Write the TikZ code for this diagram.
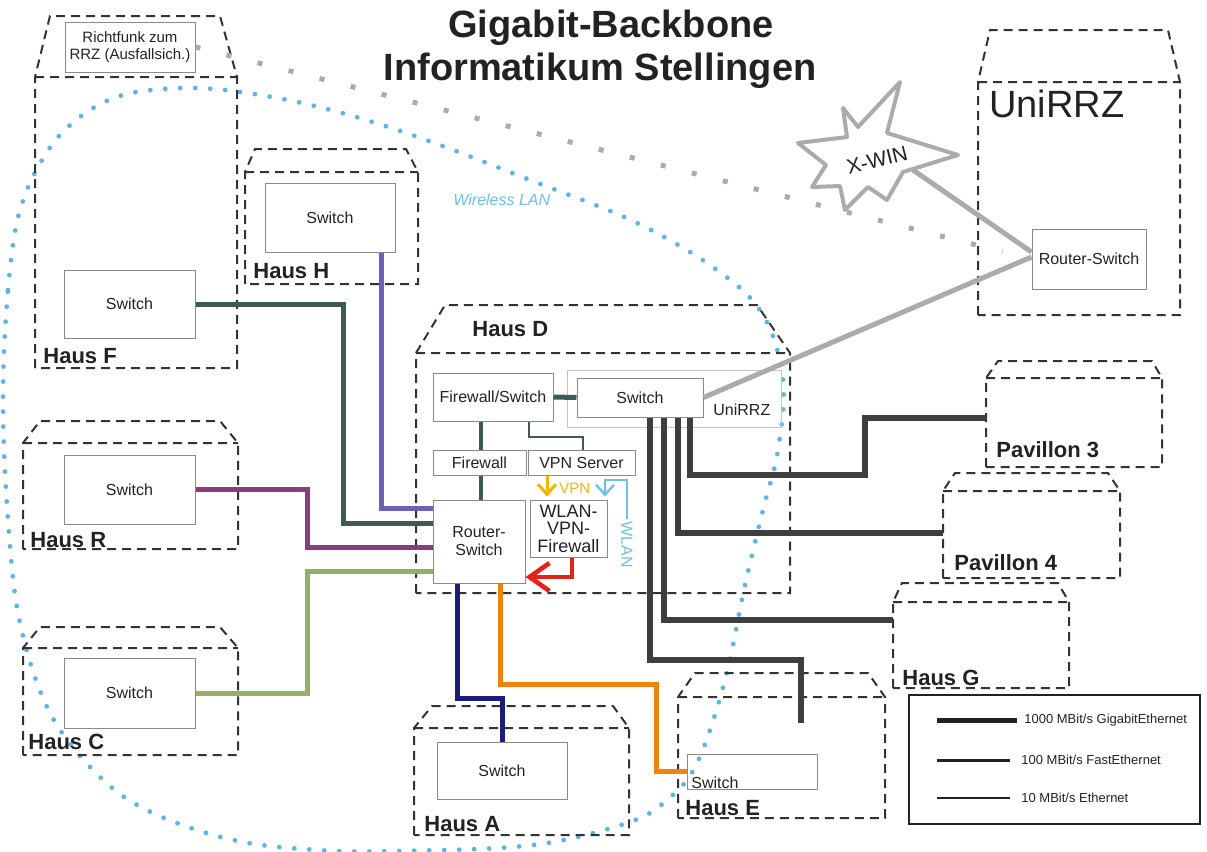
\documentclass[tikz,border=0pt]{standalone}
\usepackage{fontspec}
\setmainfont{Liberation Sans}
\usetikzlibrary{arrows.meta,calc}
\definecolor{cFc}{HTML}{3F5858}
\definecolor{cHc}{HTML}{6E60B4}
\definecolor{cRc}{HTML}{8C3C7E}
\definecolor{cCc}{HTML}{94B064}
\definecolor{cAc}{HTML}{1C1C7A}
\definecolor{cEc}{HTML}{F0820F}
\definecolor{darkc}{HTML}{3E3E3E}
\definecolor{grayc}{HTML}{ABABAB}
\definecolor{redc}{HTML}{E2231A}
\definecolor{vpnc}{HTML}{F6B400}
\definecolor{wlanc}{HTML}{6CC0EA}
\definecolor{dotc}{HTML}{5CB6E4}
\definecolor{boxc}{HTML}{8A8A8A}
\definecolor{bldc}{HTML}{333333}
\definecolor{txtc}{HTML}{222222}
\newcommand{\hausshape}[7]{\draw[bld] (#5,#7) -- (#5,#4) -- (#2,#1) -- (#3,#1) -- (#6,#4) -- (#6,#7) -- cycle (#5,#4) -- (#6,#4);}
\begin{document}
\begin{tikzpicture}[x=0.5pt,y=-0.5pt,
  box/.style={draw=boxc, line width=0.5pt, inner sep=0pt, text=txtc, font=\fontsize{8}{9}\selectfont, align=center},
  bld/.style={draw=bldc, line width=1pt, dash pattern=on 4.5pt off 3pt},
  lbl/.style={font=\bfseries\fontsize{11}{13}\selectfont, anchor=base west, inner sep=0pt, text=txtc},
  link/.style={line width=2.5pt},
  dlink/.style={line width=3pt, draw=darkc},
  glink/.style={line width=2.5pt, draw=grayc},
  gdots/.style={line width=2.5pt, draw=grayc, dash pattern=on 2.5pt off 13.5pt},
  wdots/.style={line width=2.4pt, draw=dotc, line cap=round, dash pattern=on 0pt off 7.5pt},
  lgtxt/.style={font=\fontsize{6.5}{8}\selectfont, anchor=west, inner sep=0pt, text=txtc}
]
\useasboundingbox (0,0) rectangle (1207,852);

% wireless LAN area
\draw[wdots] plot[smooth cycle, tension=0.6] coordinates {
 (3,400) (8,290) (20,210) (47,152) (80,117) (123,95) (185,88) (248,93) (327,109) (418,137)
 (530,180) (635,222) (717,270) (763,315) (783,380) (778,450) (763,510) (745,585) (725,680)
 (697,763) (667,800) (627,823) (533,845) (400,851) (317,850) (233,840) (153,813) (100,777)
 (50,713) (20,623) (8,520)};
\node[font=\itshape\fontsize{8}{9}\selectfont, text=wlanc, anchor=base west, inner sep=0pt] (wl) at (453,205) {Wireless LAN};

% title
\node[font=\bfseries\fontsize{19}{22}\selectfont, anchor=base, inner sep=0pt, text=txtc] (t1) at (611,37) {Gigabit-Backbone};
\node[font=\bfseries\fontsize{19}{22}\selectfont, anchor=base, inner sep=0pt, text=txtc] (t2) at (600,80) {Informatikum Stellingen};

% buildings
\hausshape{16}{50}{220}{77}{35}{237}{368}
\hausshape{149}{255}{406}{172}{245}{418}{284}
\hausshape{421}{40}{220}{443}{23}{238}{549}
\hausshape{627}{40}{220}{648}{23}{238}{755}
\hausshape{305}{445}{757}{353}{416}{790}{593}
\hausshape{706}{432}{613}{728}{414}{629}{835}
\hausshape{673}{695}{868}{697}{678}{885}{818}
\hausshape{583}{902}{1058}{602}{893}{1069}{688}
\hausshape{473}{955}{1108}{491}{943}{1120}{578}
\hausshape{361}{998}{1152}{378}{986}{1162}{467}
\hausshape{30}{990}{1168}{82}{978}{1180}{315}

\node[lbl] at (43,363) {Haus F};
\node[lbl] at (253,278) {Haus H};
\node[lbl] at (30,547) {Haus R};
\node[lbl] at (28,749) {Haus C};
\node[lbl] at (472,336) {Haus D};
\node[lbl] at (424,831) {Haus A};
\node[lbl] at (685,815) {Haus E};
\node[lbl] at (902,685) {Haus G};
\node[lbl] at (996,457) {Pavillon 3};
\node[lbl] at (954,570) {Pavillon 4};
\node[font=\fontsize{19}{22}\selectfont, anchor=base west, inner sep=0pt, text=txtc] at (989,117) {UniRRZ};

% boxes
\node[box, minimum width=65pt, minimum height=25pt, font=\fontsize{7.5}{8.5}\selectfont] (rf) at (130,47) {Richtfunk zum\\RRZ (Ausfallsich.)};
\node[box, minimum width=65.5pt, minimum height=34pt] (swF) at (129.5,304) {Switch};
\node[box, minimum width=65pt, minimum height=34.5pt] (swH) at (330,217.5) {Switch};
\node[box, minimum width=65.5pt, minimum height=34.5pt] (swR) at (129.5,489.5) {Switch};
\node[box, minimum width=65.5pt, minimum height=35pt] (swC) at (129.5,693) {Switch};
\node[box, draw=boxc!50, minimum width=107pt, minimum height=28.5pt] (uniD) at (674,398.5) {};
\node[font=\fontsize{8}{9}\selectfont, anchor=base west, inner sep=0pt, text=txtc] at (713,415) {UniRRZ};
\node[box, minimum width=60pt, minimum height=24pt] (fwsw) at (493,397) {Firewall/Switch};
\node[box, minimum width=63pt, minimum height=19.5pt] (swD) at (640,397.5) {Switch};
\node[box, minimum width=46.5pt, minimum height=12.5pt] (fw) at (479.5,462.5) {Firewall};
\node[box, minimum width=53.5pt, minimum height=12.5pt] (vpn) at (581.5,462.5) {VPN Server};
\node[box, minimum width=46pt, minimum height=41.5pt] (rsD) at (479,541.5) {Router-\\Switch};
\node[box, minimum width=38.5pt, minimum height=28.5pt, font=\fontsize{9}{8.8}\selectfont] (wlan) at (568.5,528.5) {WLAN-\\VPN-\\Firewall};
\node[box, minimum width=65pt, minimum height=28.5pt] (swA) at (502,770.5) {Switch};
\node[box, minimum width=65pt, minimum height=17.5pt] (swE) at (752,771.5) {};
\node[font=\fontsize{8}{9}\selectfont, anchor=base west, inner sep=0pt, text=txtc] (swEt) at (691,788) {Switch};
\node[box, minimum width=57pt, minimum height=30pt] (rsU) at (1089,259) {Router-Switch};

% radio link and X-WIN
\draw[gdots, shorten >=15pt] (rf.east) -- (rsU.west);
\draw[glink, line width=2pt, fill=white, line join=round] (900,82) -- (887,133) -- (958,155) -- (903,172) -- (887,200) -- (868,187) -- (845,210) -- (840,186) -- (812,187) -- (826,165) -- (798,143) -- (847,137) -- (843,108) -- (858,127) -- cycle;
\node[font=\fontsize{10.5}{12}\selectfont, rotate=14, inner sep=0pt, text=txtc] (xw) at (877,160) {X-WIN};
\coordinate (xwtip) at (913,170);
\draw[glink] (xwtip) -- ([yshift=3.5pt]rsU.west);
\draw[glink] (swD.east) -- ([yshift=1pt]rsU.west);

% links to Router-Switch
\draw[link, draw=cFc] (swF.east) -| (343,523) -- (rsD.west |- 0,523);
\draw[link, draw=cHc] (swH.south -| 381,0) |- (rsD.west |- 0,508);
\draw[link, draw=cRc] (swR.east) -| (307,547) -- (rsD.west |- 0,547);
\draw[link, draw=cCc] (swC.east) -| (307,571) -- (rsD.west |- 0,571);
\draw[link, draw=cAc] (rsD.south -| 457,0) |- (502,698) -- (swA.north);
\draw[link, draw=cEc] (rsD.south -| 500,0) |- (656,684) |- (swE.west);

% inside Haus D
\draw[link, draw=cFc] (fwsw.east) -- (swD.west);
\draw[link, draw=cFc, line width=2.2pt] (fwsw.south -| 481,0) -- (fw.north -| 481,0);
\draw[link, draw=cFc, line width=2.2pt] (fw.south -| 481,0) -- (rsD.north -| 481,0);
\draw[draw=cFc, line width=1.4pt] (fwsw.south -| 529,0) |- (583,437) -- (vpn.north -| 583,0);
\draw[draw=vpnc, line width=1.5pt, -{Straight Barb[length=5pt,width=9pt,line width=1.5pt]}, shorten >=1.5pt] (vpn.south -| 547,0) -- (wlan.north -| 547,0);
\node[font=\fontsize{7.5}{9}\selectfont, anchor=base west, inner sep=0pt, text=vpnc] (vpnl) at (559,493) {VPN};
\node[font=\fontsize{8}{9}\selectfont, rotate=-90, inner sep=1pt, text=wlanc] (wlbl) at (627,545) {WLAN};
\draw[draw=wlanc, line width=1.2pt, -{Straight Barb[length=5pt,width=9pt,line width=1.2pt]}, shorten >=1.5pt] (wlbl.west) -- (627,480) -| (wlan.north -| 605,0);
\draw[draw=redc, line width=2.3pt, -{Straight Barb[length=10pt,width=14pt,line width=2.3pt]}] (wlan.south -| 572,0) |- (rsD.east |- 0,577);

% links to pavilions and houses
\coordinate (p3in) at (986,418);
\coordinate (p4in) at (943,533);
\coordinate (gin) at (893,620);
\coordinate (eend) at (801,723);
\draw[dlink] (swD.south -| 690,0) |- (865,475) |- (p3in);
\draw[dlink] (swD.south -| 678,0) |- (p4in);
\draw[dlink] (swD.south -| 664,0) |- (gin);
\draw[dlink] (swD.south -| 650,0) |- (801,660) -- (eend);

% legend
\node[draw=txtc, line width=0.8pt, minimum width=145.5pt, minimum height=64.5pt, inner sep=0pt] (lg) at (1054.5,759.5) {};
\coordinate (l1a) at (937,720); \coordinate (l1b) at (1017,720);
\coordinate (l2a) at (937,760); \coordinate (l2b) at (1010,760);
\coordinate (l3a) at (937,798); \coordinate (l3b) at (1010,798);
\draw[line width=2.5pt, draw=txtc] (l1a) -- (l1b);
\draw[line width=1.5pt, draw=txtc] (l2a) -- (l2b);
\draw[line width=0.6pt, draw=txtc] (l3a) -- (l3b);
\node[lgtxt] at (1024,720) {1000 MBit/s GigabitEthernet};
\node[lgtxt] at (1021,760) {100 MBit/s FastEthernet};
\node[lgtxt] at (1021,798) {10 MBit/s Ethernet};
\end{tikzpicture}
\end{document}
